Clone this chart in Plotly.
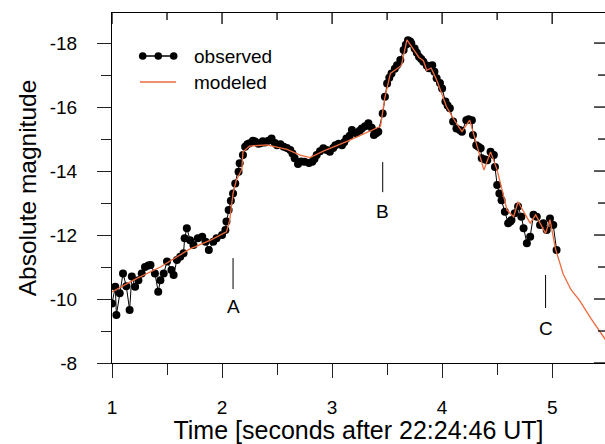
import plotly.graph_objects as go

# observed light curve (time in s after 22:24:46 UT, absolute magnitude)
obs_t = [1.00, 1.03, 1.04, 1.07, 1.10, 1.13, 1.16, 1.18, 1.21, 1.24, 1.27, 1.30,
         1.33, 1.35, 1.39, 1.42, 1.44, 1.47, 1.50, 1.54, 1.56, 1.59, 1.62, 1.65,
         1.66, 1.68, 1.71, 1.74, 1.78, 1.82, 1.85, 1.88, 1.92, 1.95, 2.00, 2.03,
         2.04, 2.06, 2.08, 2.10, 2.12, 2.15, 2.16, 2.19, 2.21, 2.23, 2.25, 2.28,
         2.30, 2.33, 2.35, 2.37, 2.39, 2.42, 2.45, 2.48, 2.50, 2.53, 2.56, 2.59,
         2.62, 2.64, 2.66, 2.69, 2.72, 2.75, 2.79, 2.82, 2.84, 2.86, 2.89, 2.92,
         2.95, 2.98, 3.01, 3.03, 3.06, 3.09, 3.11, 3.13, 3.16, 3.18, 3.22, 3.25,
         3.27, 3.30, 3.33, 3.36, 3.38, 3.40, 3.42, 3.46, 3.48, 3.50, 3.52, 3.54,
         3.57, 3.59, 3.62, 3.65, 3.67, 3.69, 3.71, 3.72, 3.75, 3.77, 3.79, 3.81,
         3.83, 3.86, 3.88, 3.91, 3.93, 3.95, 3.98, 4.00, 4.03, 4.05, 4.07, 4.10,
         4.13, 4.16, 4.18, 4.22, 4.24, 4.27, 4.28, 4.31, 4.33, 4.35, 4.36, 4.39,
         4.41, 4.44, 4.47, 4.48, 4.50, 4.52, 4.54, 4.57, 4.60, 4.62, 4.63, 4.66,
         4.69, 4.72, 4.74, 4.77, 4.80, 4.83, 4.86, 4.89, 4.92, 4.95, 4.98, 5.01,
         5.04]
obs_mag = [-9.86, -10.38, -9.50, -10.18, -10.80, -10.40, -9.66, -10.70, -10.38, -10.59, -10.80, -11.00,
           -11.05, -11.06, -10.80, -10.23, -10.59, -10.80, -11.17, -10.91, -10.75, -11.22, -11.32, -11.43,
           -11.90, -12.21, -11.84, -11.69, -11.90, -11.95, -11.79, -11.53, -11.79, -11.90, -12.00, -12.16,
           -12.42, -12.78, -13.07, -13.30, -13.61, -13.98, -14.24, -14.50, -14.76, -14.84, -14.87, -14.95,
           -14.92, -14.85, -14.87, -14.93, -14.89, -14.95, -15.02, -14.88, -14.81, -14.84, -14.76, -14.72,
           -14.66, -14.55, -14.40, -14.22, -14.30, -14.29, -14.25, -14.29, -14.38, -14.50, -14.62, -14.71,
           -14.66, -14.60, -14.72, -14.81, -14.85, -14.81, -14.90, -15.02, -15.10, -15.28, -15.18, -15.26,
           -15.33, -15.40, -15.49, -15.35, -15.13, -15.18, -15.23, -15.80, -16.32, -16.74, -16.92, -17.05,
           -17.20, -17.31, -17.47, -17.78, -17.95, -18.09, -18.05, -17.99, -17.83, -17.70, -17.57, -17.50,
           -17.42, -17.30, -17.21, -17.31, -17.10, -16.90, -16.75, -16.58, -16.17, -16.05, -15.96, -15.55,
           -15.33, -15.28, -15.23, -15.59, -15.62, -15.59, -15.13, -14.81, -14.76, -14.71, -14.40, -14.36,
           -14.34, -14.60, -14.50, -14.13, -13.56, -13.30, -13.09, -12.73, -12.37, -12.42, -12.47, -12.68,
           -12.89, -12.57, -12.21, -11.74, -11.95, -12.63, -12.57, -12.31, -12.37, -12.16, -12.52, -12.31,
           -11.53]

# modeled light curve
mod_t = [1.00, 1.20, 1.44, 1.70, 1.90, 2.04, 2.07, 2.10, 2.13, 2.18, 2.19, 2.25,
         2.41, 2.59, 2.71, 2.80, 2.92, 3.13, 3.44, 3.48, 3.53, 3.63, 3.68, 3.75,
         3.79, 3.83, 3.86, 3.90, 3.95, 4.04, 4.10, 4.18, 4.25, 4.38, 4.44, 4.50,
         4.59, 4.65, 4.69, 4.80, 4.85, 4.94, 4.98, 5.03, 5.10, 5.17, 5.25, 5.35,
         5.48, 5.55]
mod_mag = [-10.22, -10.60, -11.00, -11.55, -11.85, -12.10, -12.47, -13.30, -13.72, -14.05, -14.60, -14.78,
           -14.82, -14.68, -14.50, -14.42, -14.62, -14.92, -15.40, -16.30, -17.05, -17.30, -18.10, -17.75,
           -17.55, -17.45, -17.15, -17.22, -16.85, -16.01, -15.65, -15.23, -15.59, -14.03, -14.60, -14.03,
           -12.78, -12.57, -13.04, -12.37, -12.63, -12.05, -12.48, -11.57, -10.78, -10.30, -9.95, -9.40,
           -8.72, -8.40]

# axis ticks (plain hyphen minus like the original)
y_tickvals = [-8, -10, -12, -14, -16, -18]
y_ticktext = ["-8", "-10", "-12", "-14", "-16", "-18"]
y_minorvals = [-9, -11, -13, -15, -17]
x_tickvals = [1, 2, 3, 4, 5]
x_ticktext = ["1", "2", "3", "4", "5"]
x_minorvals = [1.5, 2.5, 3.5, 4.5]

# event markers
event_labels = ["A", "B", "C"]
event_t = [2.10, 3.46, 4.94]
event_top = [-11.28, -14.28, -10.75]
event_bottom = [-10.31, -13.34, -9.72]
event_text_y = [-9.78, -12.72, -9.09]

FONT = "Liberation Sans, Arial, sans-serif"
ORANGE = "#EE6A3C"
TICK = "#222"
x_range = [1, 5.48]
y_range = [-8, -18.94]

ML, MT, W, H = 112, 13, 605, 444
PW, PH = W - ML, 350

fig = go.Figure()

fig.add_trace(go.Scatter(x=obs_t, y=obs_mag, mode="lines+markers",
                         line=dict(color="black", width=1),
                         marker=dict(color="black", size=8),
                         name="observed", showlegend=False))
fig.add_trace(go.Scatter(x=mod_t, y=mod_mag, mode="lines",
                         line=dict(color=ORANGE, width=1.3),
                         name="modeled", showlegend=False))

for lab, t, y0, y1, ty in zip(event_labels, event_t, event_top, event_bottom, event_text_y):
    fig.add_shape(type="line", x0=t, x1=t, y0=y0, y1=y1, xref="x", yref="y",
                  line=dict(color="black", width=1))
    fig.add_annotation(x=t, y=ty, text=lab, showarrow=False, xref="x", yref="y",
                       font=dict(family=FONT, size=19, color="black"))

# inward ticks on the top and right frame (lengths in pixels -> paper fractions)
for vals, length in [(x_tickvals, 11), (x_minorvals, 7)]:
    for v in vals:
        fig.add_shape(type="line", xref="x", yref="paper", layer="above",
                      x0=v, x1=v, y0=1, y1=1 - length / PH,
                      line=dict(color=TICK, width=1.5))
for vals, length in [(y_tickvals, 11), (y_minorvals, 7)]:
    for v in vals:
        fig.add_shape(type="line", xref="paper", yref="y", layer="above",
                      x0=1, x1=1 - length / PW, y0=v, y1=v,
                      line=dict(color=TICK, width=1.5))

# hand drawn legend (line with three dots, like the original); window pixel -> paper
def px2paper(px, py):
    return (px - ML) / PW, (MT + PH - py) / PH

lx0, ly_obs = px2paper(140, 56)
lx1, _ = px2paper(176, 56)
_, ly_mod = px2paper(140, 82)
tx, _ = px2paper(192, 56)
fig.add_shape(type="line", xref="paper", yref="paper", x0=lx0, x1=lx1, y0=ly_obs, y1=ly_obs,
              line=dict(color="black", width=1.5))
for mx in [142.7, 158.3, 173.7]:
    mxp, _ = px2paper(mx, 56)
    fig.add_shape(type="circle", xref="paper", yref="paper",
                  xsizemode="pixel", ysizemode="pixel", xanchor=mxp, yanchor=ly_obs,
                  x0=-3.8, x1=3.8, y0=-3.8, y1=3.8,
                  fillcolor="black", line=dict(color="black", width=0))
fig.add_shape(type="line", xref="paper", yref="paper", x0=lx0, x1=lx1, y0=ly_mod, y1=ly_mod,
              line=dict(color=ORANGE, width=1.5))
for txt, ly in [("observed", ly_obs), ("modeled", ly_mod)]:
    fig.add_annotation(x=tx, y=ly, xref="paper", yref="paper", text=txt, showarrow=False,
                       xanchor="left", yanchor="middle",
                       font=dict(family=FONT, size=19, color="black"))

axis_common = dict(showgrid=False, zeroline=False, showline=True, mirror=True,
                   linecolor="black", linewidth=1.2, tickcolor=TICK, tickwidth=1.2)

fig.update_layout(
    width=W, height=H,
    margin=dict(l=ML, r=0, t=MT, b=H - MT - PH),
    plot_bgcolor="white", paper_bgcolor="white",
    font=dict(family=FONT, size=19, color="black"),
    xaxis=dict(range=x_range, tickvals=x_tickvals, ticktext=x_ticktext,
               ticks="outside", ticklen=14,
               minor=dict(dtick=0.5, tick0=1, ticks="outside", ticklen=11, tickcolor=TICK),
               ticklabelstandoff=13,
               title=dict(text="Time [seconds after 22:24:46 UT]", font=dict(size=25), standoff=4),
               **axis_common),
    yaxis=dict(range=y_range, tickvals=y_tickvals, ticktext=y_ticktext,
               ticks="outside", ticklen=14,
               minor=dict(dtick=1, tick0=-8, ticks="outside", ticklen=10, tickcolor=TICK),
               ticklabelstandoff=16,
               title=dict(text="Absolute magnitude", font=dict(size=24.5), standoff=6),
               **axis_common),
)

# drop the page margin so the 605x444 figure fills the window exactly
fig.write_html("out.html", config={"displayModeBar": False},
               post_script="document.body.style.margin='0';document.body.style.overflow='hidden';")
